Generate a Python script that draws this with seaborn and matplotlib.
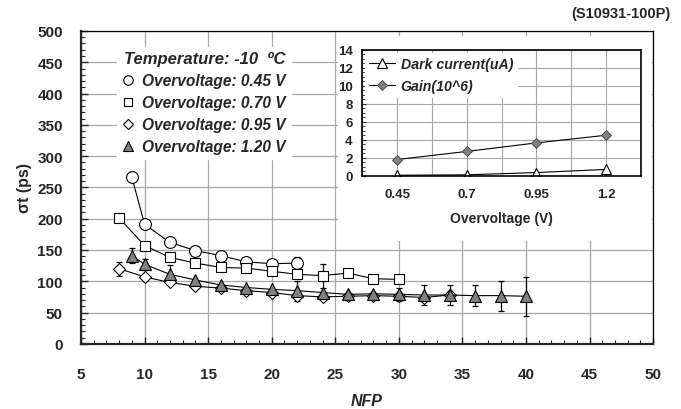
import numpy as np
import matplotlib
matplotlib.use("Agg")
import matplotlib.pyplot as plt
from matplotlib.patches import Rectangle
from matplotlib.lines import Line2D
from matplotlib.ticker import MultipleLocator
import seaborn as sns

# main chart: time resolution vs NFP for four overvoltages
nfp_045 = [9, 10, 12, 14, 16, 18, 20, 22]
sigma_045 = [266, 191, 162, 149, 141, 131, 128, 129]
err_045 = [0, 0, 0, 0, 0, 0, 0, 9]

nfp_070 = [8, 10, 12, 14, 16, 18, 20, 22, 24, 26, 28, 30]
sigma_070 = [201, 157, 138, 129, 122, 121, 116, 111, 109, 113, 104, 103]
err_070 = [0, 0, 0, 0, 0, 0, 0, 0, 19, 7, 0, 6]

nfp_095 = [8, 10, 12, 14, 16, 18, 20, 22, 24, 26, 28, 30, 32, 34]
sigma_095 = [120, 107, 98, 92, 89, 85, 82, 77, 75, 76, 77, 76, 74, 78]
err_095 = [11, 0, 0, 0, 0, 0, 0, 0, 0, 0, 0, 0, 0, 0]

nfp_120 = [9, 10, 12, 14, 16, 18, 20, 22, 24, 26, 28, 30, 32, 34, 36, 38, 40]
sigma_120 = [141, 127, 111, 102, 94, 90, 87, 85, 82, 79, 80, 79, 78, 78, 77, 77, 76]
err_120 = [12, 9, 15, 0, 0, 0, 0, 16, 0, 0, 0, 10, 16, 16, 17, 24, 31]

series_labels = ["Overvoltage: 0.45 V", "Overvoltage: 0.70 V",
                 "Overvoltage: 0.95 V", "Overvoltage: 1.20 V"]

# inset chart
ov_labels = ["0.45", "0.7", "0.95", "1.2"]
dark_current = [0.05, 0.1, 0.35, 0.7]
gain = [1.8, 2.7, 3.65, 4.5]

sns.set_style("ticks")
plt.rcParams['font.family'] = ['Liberation Sans', 'DejaVu Sans']
plt.rcParams['font.weight'] = 'bold'

fig = plt.figure(figsize=(6.81, 4.10), dpi=100)
ax = fig.add_axes([0.119, 0.159, 0.840, 0.763])

grid_col = '#a6a6a6'
styles = [
    dict(marker='o', ms=8.5, mfc='white'),
    dict(marker='s', ms=7.5, mfc='white'),
    dict(marker='D', ms=6.5, mfc='white'),
    dict(marker='^', ms=8.5, mfc='#808080'),
]
data = [(nfp_045, sigma_045, err_045), (nfp_070, sigma_070, err_070),
        (nfp_095, sigma_095, err_095), (nfp_120, sigma_120, err_120)]

handles = []
for (x, y, e), st, lab in zip(data, styles, series_labels):
    x = np.array(x); y = np.array(y); e = np.array(e)
    m = e > 0
    ax.errorbar(x[m], y[m], yerr=e[m], fmt='none', ecolor='black',
                elinewidth=0.9, capsize=2.5, capthick=0.9, zorder=2)
    sns.lineplot(x=x, y=y, ax=ax, color='black', lw=0.8, marker=st['marker'],
                 markersize=st['ms'], markerfacecolor=st['mfc'],
                 markeredgecolor='black', markeredgewidth=0.8, zorder=3)
    handles.append(Line2D([], [], ls='none', marker=st['marker'],
                          markersize=st['ms'] * 0.8, markerfacecolor=st['mfc'],
                          markeredgecolor='black', markeredgewidth=0.8, label=lab))

ax.set_xlim(5, 50)
ax.set_ylim(0, 500)
ax.xaxis.set_major_locator(MultipleLocator(5))
ax.xaxis.set_minor_locator(MultipleLocator(1))
ax.yaxis.set_major_locator(MultipleLocator(50))
ax.yaxis.set_minor_locator(MultipleLocator(10))
ax.grid(True, which='major', color=grid_col, lw=0.9, zorder=0)
ax.set_axisbelow(True)
ax.tick_params(which='both', direction='in', labelsize=11)
ax.tick_params(which='major', length=5, width=1)
ax.tick_params(which='minor', length=3, width=0.8)
ax.tick_params(axis='x', pad=17)
ax.tick_params(axis='y', pad=13)
for t in ax.get_xticklabels() + ax.get_yticklabels():
    t.set_fontweight('bold')
for s in ['left', 'bottom']:
    ax.spines[s].set_linewidth(1.6)
for s in ['top', 'right']:
    ax.spines[s].set_linewidth(0.9)
    ax.spines[s].set_color('black')

ax.set_xlabel("NFP", fontsize=11.5, fontweight='bold', fontstyle='italic', labelpad=8)
ax.set_ylabel("σt (ps)", fontsize=11.5, fontweight='bold', labelpad=4)

leg = ax.legend(handles=handles, loc='upper left', bbox_to_anchor=(0.05, 0.975),
                title="Temperature: -10  ºC", frameon=True, framealpha=1,
                edgecolor='white', facecolor='white', handlelength=0.8,
                handletextpad=0.5, labelspacing=0.45, borderpad=0.3,
                prop=dict(weight='bold', style='italic', size=11.2),
                title_fontproperties=dict(weight='bold', style='italic', size=12))
leg._legend_box.align = "right"

# white chart area behind the inset
fig.patches.append(Rectangle((0.497, 0.41), 0.46, 0.50, transform=fig.transFigure,
                             facecolor='white', edgecolor='none', zorder=1))

ins = fig.add_axes([0.532, 0.569, 0.409, 0.307])
ins.set_zorder(2)
xpos = np.arange(len(ov_labels))
sns.lineplot(x=xpos, y=dark_current, ax=ins, color='black', lw=0.8, marker='^',
             markersize=7, markerfacecolor='white', markeredgecolor='black',
             markeredgewidth=0.8, label="Dark current(uA)")
sns.lineplot(x=xpos, y=gain, ax=ins, color='black', lw=0.8, marker='D',
             markersize=5, markerfacecolor='#808080', markeredgecolor='#404040',
             markeredgewidth=0.6, label="Gain(10^6)")
ins.set_xlim(-0.5, 3.5)
ins.set_ylim(0, 14)
ins.set_xticks(xpos)
ins.set_xticklabels(ov_labels)
ins.xaxis.set_minor_locator(MultipleLocator(0.5))
ins.yaxis.set_major_locator(MultipleLocator(2))
ins.yaxis.set_minor_locator(MultipleLocator(0.5))
ins.grid(True, which='both', axis='x', color=grid_col, lw=0.8)
ins.grid(True, which='major', axis='y', color=grid_col, lw=0.8)
ins.set_axisbelow(True)
ins.tick_params(axis='x', which='both', length=0, labelsize=9.5, pad=9)
ins.tick_params(axis='y', which='major', direction='in', length=3, labelsize=9.5, pad=7)
ins.tick_params(axis='y', which='minor', direction='in', length=2)
for t in ins.get_xticklabels() + ins.get_yticklabels():
    t.set_fontweight('bold')
for s in ins.spines.values():
    s.set_color('black')
    s.set_linewidth(1.2)
ins.set_xlabel("Overvoltage (V)", fontsize=10, fontweight='bold', labelpad=8)
ins.set_ylabel("")
ileg = ins.legend(loc='upper left', frameon=True, framealpha=1, edgecolor='white',
                  facecolor='white', handlelength=1.8, handletextpad=0.4,
                  labelspacing=0.55, borderpad=0.3, borderaxespad=0.2,
                  prop=dict(weight='bold', style='italic', size=10.2))

fig.text(0.985, 0.965, "(S10931-100P)", ha='right', va='center',
         fontsize=10.5, fontweight='bold')

plt.savefig("out.png", dpi=100)
